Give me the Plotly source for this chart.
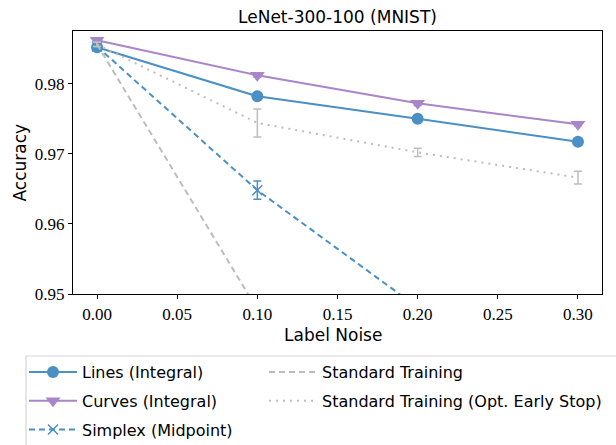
import plotly.graph_objects as go

noise = [0.0, 0.1, 0.2, 0.3]

lines_y = [0.9852, 0.9782, 0.9750, 0.9717]
lines_err = [0.0004, 0.0004, 0.0004, 0.0004]

curves_y = [0.9862, 0.9812, 0.9772, 0.9742]
curves_err = [0.0003, 0.0003, 0.0003, 0.0002]

simplex_y = [0.9853, 0.9648, 0.9481, 0.9300]
simplex_err = [0.0003, 0.0013, 0.0010, 0.0010]

std_y = [0.9856, 0.9477, 0.9100, 0.8800]
std_err = [0.0003, 0.0010, 0.0010, 0.0010]

opt_y = [0.9856, 0.9744, 0.9702, 0.9666]
opt_err = [0.0003, 0.0020, 0.0006, 0.0009]

BLUE = "#4a90c4"
PURPLE = "#a985ca"
GRAY = "#bdbdbd"
SANS = "DejaVu Sans, sans-serif"
SERIF = "Liberation Serif, DejaVu Serif, serif"

fig = go.Figure()

fig.add_trace(go.Scatter(
    x=noise, y=lines_y, name="Lines (Integral)", mode="lines+markers",
    legend="legend", legendgroup="a",
    line=dict(color=BLUE, width=2),
    marker=dict(symbol="circle", size=12, color=BLUE),
    error_y=dict(type="data", array=lines_err, color=BLUE, thickness=1.5, width=4),
))
fig.add_trace(go.Scatter(
    x=noise, y=curves_y, name="Curves (Integral)", mode="lines+markers",
    legend="legend", legendgroup="b",
    line=dict(color=PURPLE, width=2),
    marker=dict(symbol="triangle-down", size=13, color=PURPLE),
    error_y=dict(type="data", array=curves_err, color=PURPLE, thickness=1.5, width=4),
))
fig.add_trace(go.Scatter(
    x=noise, y=simplex_y, name="Simplex (Midpoint)", mode="lines+markers",
    legend="legend", legendgroup="c",
    line=dict(color=BLUE, width=2, dash="6px,4px"),
    marker=dict(symbol="x-thin", size=10, color=BLUE, line=dict(color=BLUE, width=1.5)),
    error_y=dict(type="data", array=simplex_err, color=BLUE, thickness=1.5, width=4),
))
fig.add_trace(go.Scatter(
    x=noise, y=std_y, name="Standard Training", mode="lines",
    legend="legend2", legendgroup="d",
    line=dict(color=GRAY, width=2, dash="6px,4px"),
    error_y=dict(type="data", array=std_err, color=GRAY, thickness=1.5, width=4),
))
fig.add_trace(go.Scatter(
    x=noise, y=opt_y, name="Standard Training (Opt. Early Stop)", mode="lines",
    legend="legend2", legendgroup="e",
    line=dict(color=GRAY, width=2, dash="2px,5px"),
    error_y=dict(type="data", array=opt_err, color=GRAY, thickness=1.5, width=4),
))

axis_common = dict(
    showline=True, linecolor="black", linewidth=1.2, mirror=True,
    ticks="outside", ticklen=4, tickwidth=1, tickcolor="black",
    showgrid=False, zeroline=False,
    tickfont=dict(family=SERIF, size=17, color="black"),
)

legend_common = dict(
    orientation="v", xanchor="left", yanchor="top",
    xref="container", yref="container",
    bgcolor="rgba(0,0,0,0)", borderwidth=0,
    font=dict(family=SANS, size=16, color="black"),
    tracegroupgap=5, itemwidth=48,
)

fig.update_layout(
    width=616, height=445,
    margin=dict(l=73, r=14, t=31, b=151, autoexpand=False),
    plot_bgcolor="white", paper_bgcolor="white",
    title=dict(text="LeNet-300-100 (MNIST)", x=(73 + 602) / 2 / 616, xanchor="center",
               y=1 - 17 / 445, yanchor="middle",
               font=dict(family=SANS, size=17, color="black")),
    xaxis=dict(range=[-0.015, 0.315], tickvals=[0, 0.05, 0.1, 0.15, 0.2, 0.25, 0.3],
               ticktext=["0.00", "0.05", "0.10", "0.15", "0.20", "0.25", "0.30"],
               **axis_common),
    yaxis=dict(range=[0.95, 0.98751], tickvals=[0.95, 0.96, 0.97, 0.98],
               ticktext=["0.95", "0.96", "0.97", "0.98"],
               **axis_common),
    annotations=[
        dict(text="Label Noise", xref="paper", yref="paper",
             x=(333 - 73) / 529, y=(294 - 335) / 263, xanchor="center", yanchor="middle",
             showarrow=False, font=dict(family=SANS, size=17, color="black")),
        dict(text="Accuracy", xref="paper", yref="paper",
             x=(19 - 73) / 529, y=0.5, xanchor="center", yanchor="middle", textangle=-90,
             showarrow=False, font=dict(family=SANS, size=17, color="black")),
    ],
    showlegend=True,
    legend=dict(x=24 / 616, y=1 - 355 / 445, **legend_common),
    legend2=dict(x=264 / 616, y=1 - 355 / 445, **legend_common),
    shapes=[dict(type="rect", xref="paper", yref="paper",
                 x0=(26 - 73) / 529, x1=(640 - 73) / 529,
                 y0=(294 - 460) / 263, y1=(294 - 356) / 263,
                 line=dict(color="#d6d6d6", width=1.2), fillcolor="rgba(0,0,0,0)",
                 layer="below")],
)

fig.write_html("out.html")
